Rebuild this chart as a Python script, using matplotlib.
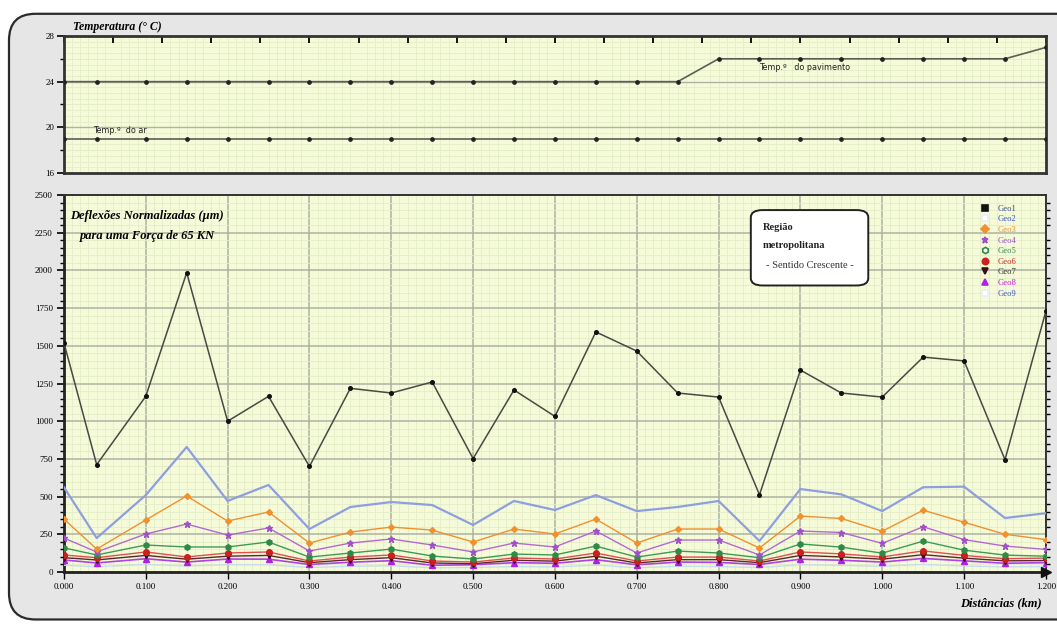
import numpy as np
import matplotlib
matplotlib.use("Agg")
import matplotlib.pyplot as plt
from matplotlib.patches import FancyBboxPatch
from matplotlib.lines import Line2D
from matplotlib.ticker import MultipleLocator, FixedLocator

# ---- data -------------------------------------------------------------
dist = [0.00, 0.04, 0.10, 0.15, 0.20, 0.25, 0.30, 0.35, 0.40, 0.45, 0.50,
        0.55, 0.60, 0.65, 0.70, 0.75, 0.80, 0.85, 0.90, 0.95, 1.00, 1.05,
        1.10, 1.15, 1.20]

temp_air = [19] * 25
temp_pav = [24, 24, 24, 24, 24, 24, 24, 24, 24, 24, 24, 24, 24, 24, 24, 24,
            26, 26, 26, 26, 26, 26, 26, 26, 27]

geo1 = [1520, 712, 1165, 1985, 1000, 1165, 700, 1218, 1187, 1260, 752,
        1207, 1032, 1592, 1465, 1187, 1160, 512, 1339, 1187, 1160, 1425,
        1400, 745, 1730]
geo2 = [562, 225, 510, 829, 471, 577, 285, 431, 464, 444, 312, 471, 411,
        510, 404, 431, 471, 206, 550, 515, 404, 562, 566, 358, 390]
geo3 = [351, 152, 345, 504, 338, 398, 192, 265, 298, 278, 199, 285, 252,
        351, 192, 285, 285, 159, 371, 355, 270, 410, 330, 250, 215]
geo4 = [225, 133, 252, 318, 245, 292, 139, 192, 219, 179, 133, 192, 166,
        272, 126, 212, 212, 113, 272, 262, 190, 300, 215, 172, 150]
geo5 = [160, 113, 179, 166, 166, 199, 99, 126, 152, 106, 86, 119, 113,
        172, 99, 139, 126, 95, 186, 165, 125, 205, 145, 112, 105]
geo6 = [113, 95, 133, 100, 126, 133, 73, 99, 113, 73, 66, 93, 86, 126,
        73, 99, 99, 73, 133, 120, 100, 140, 110, 88, 92]
geo7 = [95, 80, 110, 85, 105, 110, 62, 82, 95, 60, 55, 78, 72, 105, 60,
        82, 82, 62, 110, 100, 85, 115, 92, 74, 76]
geo8 = [80, 60, 88, 66, 86, 85, 50, 65, 75, 45, 48, 62, 58, 82, 48, 66,
        64, 50, 85, 78, 66, 90, 74, 58, 62]
geo9 = [45, 35, 50, 40, 48, 48, 30, 38, 42, 28, 30, 36, 34, 46, 28, 38,
        36, 30, 48, 44, 38, 50, 40, 34, 36]

series_names = ["Geo1", "Geo2", "Geo3", "Geo4", "Geo5", "Geo6", "Geo7",
                "Geo8", "Geo9"]
x_ticks = [0.0, 0.1, 0.2, 0.3, 0.4, 0.5, 0.6, 0.7, 0.8, 0.9, 1.0, 1.1, 1.2]
x_ticklabels = ["0.000", "0.100", "0.200", "0.300", "0.400", "0.500",
                "0.600", "0.700", "0.800", "0.900", "1.000", "1.100", "1.200"]

# ---- styles -----------------------------------------------------------
BG = "#f5fbd8"
MAJ = "#adb2a2"
MINOR = "#e4edc8"
SERIF = "Liberation Serif"

styles = [
    dict(color="#474a43", marker="o", ms=2.6, mfc="#111111", mec="#111111", lw=1.1),
    dict(color="#8e9fe0", marker="", lw=1.6),
    dict(color="#f0902e", marker="D", ms=3.0, mfc="#f0902e", mec="#f0902e", lw=1.0),
    dict(color="#b469d2", marker="*", ms=4.5, mfc="#a050c8", mec="#a050c8", lw=1.0),
    dict(color="#3d9b55", marker="h", ms=4.0, mfc="#2e8a46", mec="#2e8a46", lw=1.0),
    dict(color="#e05050", marker="o", ms=4.0, mfc="#cc1f1f", mec="#cc1f1f", lw=1.0),
    dict(color="#5a2a2a", marker="v", ms=4.0, mfc="#3a1010", mec="#3a1010", lw=1.0),
    dict(color="#b040e8", marker="^", ms=4.5, mfc="#b020e0", mec="#b020e0", lw=1.2),
    dict(color="#c7dcf2", marker="", lw=1.0),
]
label_colors = ["#3a4a8a", "#3b52c8", "#f09030", "#9a50c8", "#2e8a46",
                "#c03020", "#303030", "#c020d0", "#3b52c8"]

fig = plt.figure(figsize=(10.57, 6.27), dpi=100)
fig.patch.set_facecolor("white")

# outer rounded panel, behind both axes
frame = FancyBboxPatch((0.0085, 0.012), 1.05, 0.966,
                       boxstyle="round,pad=0,rounding_size=0.025",
                       transform=fig.transFigure, facecolor="#e6e6e6",
                       edgecolor="#2a2a2a", linewidth=1.6, zorder=-10,
                       mutation_aspect=1.7)
fig.add_artist(frame)


def style_grid(ax):
    ax.set_facecolor(BG)
    ax.grid(which="minor", color=MINOR, lw=0.6, zorder=0)
    ax.set_axisbelow(True)


# ---- temperature panel ---------------------------------------------------
axt = fig.add_axes([0.0605, 0.7241, 0.929, 0.2185])
style_grid(axt)
axt.set_xlim(0, 1.2)
axt.set_ylim(16, 28)
axt.axhline(24, color=MAJ, lw=1.0, zorder=1)
axt.axhline(20, color=MAJ, lw=1.0, zorder=1)
axt.plot(dist, temp_pav, color="#5b5f55", lw=1.2, marker="o", ms=2.4,
         mfc="#222", mec="#222", zorder=3)
axt.plot(dist, temp_air, color="#5b5f55", lw=1.2, marker="o", ms=2.4,
         mfc="#222", mec="#222", zorder=3)
axt.set_yticks([16, 20, 24, 28])
axt.yaxis.set_minor_locator(FixedLocator([18, 22, 26]))
axt.tick_params(axis="y", which="major", length=5, width=1.2, labelsize=6.5,
                pad=2)
axt.tick_params(axis="y", which="minor", length=3, width=1.0)
axt.xaxis.tick_top()
axt.set_xticks(np.linspace(0, 1.2, 21))
axt.xaxis.set_minor_locator(MultipleLocator(0.01))
axt.tick_params(axis="x", which="major", direction="in", length=5, width=1.3,
                labeltop=False, labelbottom=False)
axt.tick_params(axis="x", which="minor", length=0)
axt.grid(which="minor", axis="x", color=MINOR, lw=0.6)
for yv in np.arange(16.5, 28, 0.5):
    axt.axhline(yv, color=MINOR, lw=0.6, zorder=0)
for lab in axt.get_yticklabels():
    lab.set_family(SERIF)
for side in ["left", "top", "bottom", "right"]:
    axt.spines[side].set_linewidth(2.0)
    axt.spines[side].set_color("#333333")
axt.text(0.009, 1.025, "Temperatura (° C)", transform=axt.transAxes,
         family=SERIF, style="italic", weight="bold", fontsize=8.5,
         ha="left", va="bottom")
axt.text(0.035, 19.3, "Temp.º  do ar", family="DejaVu Sans", fontsize=5.8,
         ha="left", va="bottom", color="#222")
axt.text(0.905, 25.6, "Temp.º   do pavimento", family="DejaVu Sans",
         fontsize=5.8, ha="center", va="top", color="#222")

# ---- deflection panel ----------------------------------------------------
ax = fig.add_axes([0.0605, 0.0877, 0.929, 0.6013])
style_grid(ax)
ax.set_xlim(0, 1.2)
ax.set_ylim(0, 2500)
ax.set_xticks(x_ticks)
ax.set_xticklabels(x_ticklabels)
ax.set_yticks(np.arange(0, 2501, 250))
ax.xaxis.set_minor_locator(MultipleLocator(0.01))
ax.yaxis.set_minor_locator(MultipleLocator(50))
ax.grid(which="major", color=MAJ, lw=1.1, zorder=1)
ax.tick_params(axis="both", which="major", labelsize=6.5, pad=3)
ax.tick_params(axis="y", which="major", length=5, width=1.2)
ax.tick_params(axis="y", which="minor", length=3, width=1.0, right=True)
ax.tick_params(axis="x", which="major", length=5, width=1.0)
ax.tick_params(axis="x", which="minor", length=0)
for lab in ax.get_xticklabels() + ax.get_yticklabels():
    lab.set_family(SERIF)
for side in ["left", "bottom"]:
    ax.spines[side].set_linewidth(2.0)
    ax.spines[side].set_color("#222222")
for side in ["top", "right"]:
    ax.spines[side].set_linewidth(1.4)
    ax.spines[side].set_color("#333333")
ax.plot([1.0], [0.0], marker=">", ms=7, color="#111", transform=ax.transAxes,
        clip_on=False, zorder=6)

all_series = [geo1, geo2, geo3, geo4, geo5, geo6, geo7, geo8, geo9]
for i in [8, 7, 6, 5, 4, 3, 2, 1, 0]:
    ax.plot(dist, all_series[i], zorder=3 + (9 - i) * 0.01, **styles[i])

# legend with marker swatches only
handles = []
for i in range(9):
    st = styles[i]
    mk = st["marker"] if st["marker"] else "s"
    mfc = st.get("mfc", "white")
    mec = st.get("mec", "#c7dcf2")
    if i == 0:
        mk, mfc, mec = "s", "#111", "#111"
    if i in (1, 8):
        mk, mfc, mec = "s", "white", "#e8f0f8"
    if i == 4:
        mfc = "white"
    handles.append(Line2D([], [], lw=0, marker=mk, ms=4.5, mfc=mfc, mec=mec,
                          mew=1.2))
leg = ax.legend(handles, series_names, loc="upper right",
                bbox_to_anchor=(0.976, 0.99), frameon=False,
                handletextpad=0.9, handlelength=1.2, labelspacing=0.3,
                borderpad=0.2, prop={"family": SERIF, "size": 6.2})
for txt, c in zip(leg.get_texts(), label_colors):
    txt.set_color(c)

# region note
box = FancyBboxPatch((0.6995, 0.760), 0.1196, 0.2, transform=ax.transAxes,
                     boxstyle="round,pad=0,rounding_size=0.012",
                     facecolor="white", edgecolor="#222", lw=1.4, zorder=5,
                     mutation_aspect=1.6)
ax.add_patch(box)
ax.text(0.712, 0.915, "Região", transform=ax.transAxes, family=SERIF,
        weight="bold", fontsize=7.5, ha="left", va="center", zorder=6,
        color="#222")
ax.text(0.712, 0.867, "metropolitana", transform=ax.transAxes, family=SERIF,
        weight="bold", fontsize=7.5, ha="left", va="center", zorder=6,
        color="#222")
ax.text(0.7593, 0.814, "- Sentido Crescente -", transform=ax.transAxes,
        family=SERIF, fontsize=7.5, ha="center", va="center", zorder=6,
        color="#333")

ax.text(0.006, 0.945, "Deflexões Normalizadas (µm)", transform=ax.transAxes,
        family=SERIF, style="italic", weight="bold", fontsize=9, ha="left",
        va="center", zorder=6)
ax.text(0.016, 0.892, "para uma Força de 65 KN", transform=ax.transAxes,
        family=SERIF, style="italic", weight="bold", fontsize=9, ha="left",
        va="center", zorder=6)

fig.text(0.986, 0.038, "Distâncias (km)", family=SERIF, style="italic",
         weight="bold", fontsize=9, ha="right", va="center")

fig.savefig("out.png", dpi=100, facecolor="white")
